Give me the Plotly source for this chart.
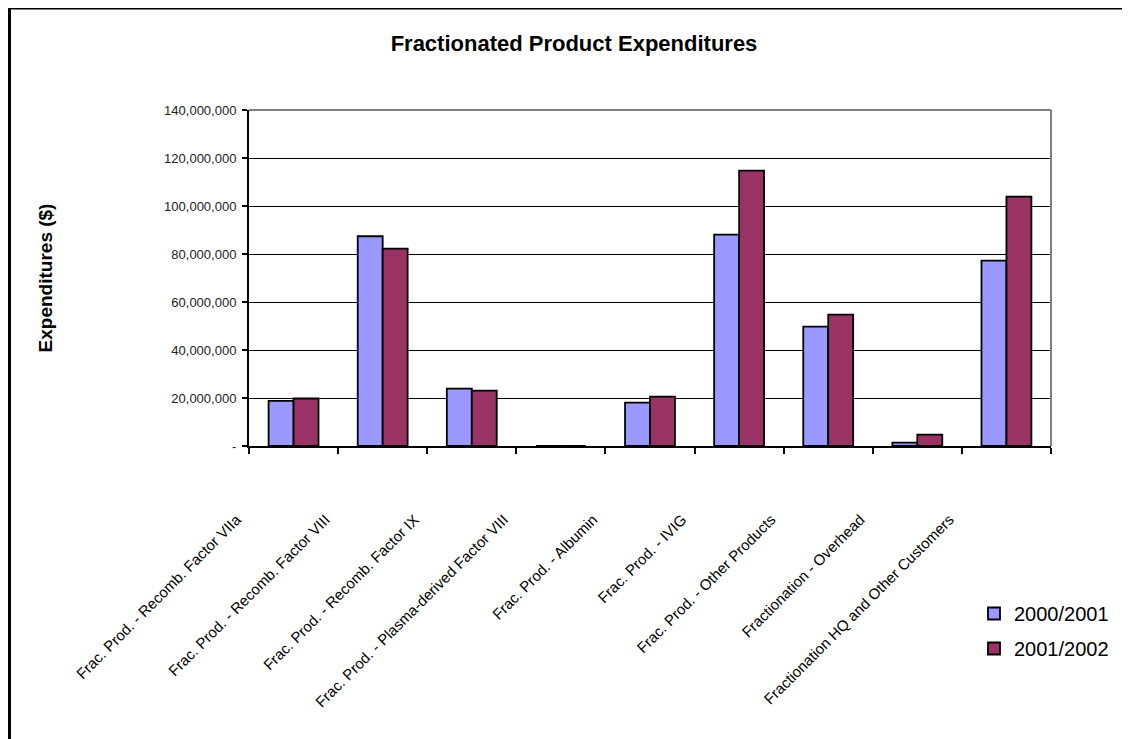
import plotly.graph_objects as go

categories = [
    "Frac. Prod. - Recomb. Factor VIIa",
    "Frac. Prod. - Recomb. Factor VIII",
    "Frac. Prod. - Recomb. Factor IX",
    "Frac. Prod. - Plasma-derived Factor VIII",
    "Frac. Prod. - Albumin",
    "Frac. Prod. - IVIG",
    "Frac. Prod. - Other Products",
    "Fractionation - Overhead",
    "Fractionation HQ and Other Customers",
]
series_2000_2001 = [18.8e6, 87.4e6, 23.9e6, 0, 18.1e6, 88.1e6, 49.7e6, 1.4e6, 77.2e6]
series_2001_2002 = [19.8e6, 82.2e6, 23.1e6, 0, 20.6e6, 114.7e6, 54.7e6, 4.7e6, 103.9e6]
y_tick_values = [0, 20e6, 40e6, 60e6, 80e6, 100e6, 120e6, 140e6]
y_tick_labels = ["-", "20,000,000", "40,000,000", "60,000,000", "80,000,000",
                 "100,000,000", "120,000,000", "140,000,000"]

FONT = "Liberation Sans, Arial, sans-serif"
# page has an 8px body margin, so the figure is 8px smaller than the window
W, H = 1122, 731
L, R, T, B = 241, 79, 102, 293
pw, ph = W - L - R, H - T - B

fig = go.Figure()
fig.add_trace(go.Bar(x=categories, y=series_2000_2001, name="2000/2001", legendgroup="a",
                     marker=dict(color="#9999FF", line=dict(color="black", width=1.8))))
fig.add_trace(go.Bar(x=categories, y=series_2001_2002, name="2001/2002", legendgroup="b",
                     marker=dict(color="#993366", line=dict(color="black", width=1.8))))

def px_x(x):
    return (x - L) / pw

def px_y(y):
    return (H - B - y) / ph

fig.update_layout(
    width=W, height=H,
    margin=dict(l=L, r=R, t=T, b=B, pad=0),
    paper_bgcolor="white", plot_bgcolor="white",
    font=dict(family=FONT, color="black"),
    barmode="group", bargap=0.44, bargroupgap=0,
    title=dict(text="<b>Fractionated Product Expenditures</b>",
               x=566 / W, xanchor="center", y=1 - 35 / H, yanchor="middle",
               font=dict(size=22, family=FONT, color="black")),
    showlegend=True,
    legend=dict(x=px_x(966), y=px_y(586), xanchor="left", yanchor="top",
                font=dict(size=20, family=FONT, color="black"),
                bgcolor="rgba(0,0,0,0)", itemwidth=30, tracegroupgap=6,
                traceorder="grouped"),
    xaxis=dict(type="category", showline=True, linecolor="black", linewidth=2,
               ticks="outside", tickson="boundaries", ticklen=6, tickwidth=2,
               tickcolor="black", tickangle=-45, showgrid=False,
               tickfont=dict(size=15, family=FONT, color="black"),
               ticklabelshift=-57, ticklabelstandoff=57),
    yaxis=dict(range=[0, 140e6], tickvals=y_tick_values, ticktext=y_tick_labels,
               showline=True, linecolor="black", linewidth=2,
               ticks="outside", ticklen=5, tickwidth=1.5, tickcolor="black",
               showgrid=True, gridcolor="black", gridwidth=1,
               zeroline=False, ticklabelstandoff=3,
               tickfont=dict(size=13, family=FONT, color="#222222"),
               title=dict(text="<b>Expenditures ($)</b>", standoff=106,
                          font=dict(size=19, family=FONT, color="black"))),
)

# grey plot-area border (top and right)
fig.add_shape(type="line", xref="paper", yref="paper", x0=0, x1=1, y0=1, y1=1,
              line=dict(color="#808080", width=2))
fig.add_shape(type="line", xref="paper", yref="paper", x0=1, x1=1, y0=0, y1=1,
              line=dict(color="#808080", width=2))
# outer chart frame (extends beyond the window on the right and bottom)
fig.add_shape(type="rect", xref="paper", yref="paper",
              x0=px_x(1.5), x1=px_x(1160), y0=px_y(780), y1=px_y(0),
              line=dict(color="black", width=3), fillcolor="rgba(0,0,0,0)")

fig.write_html("out.html")
